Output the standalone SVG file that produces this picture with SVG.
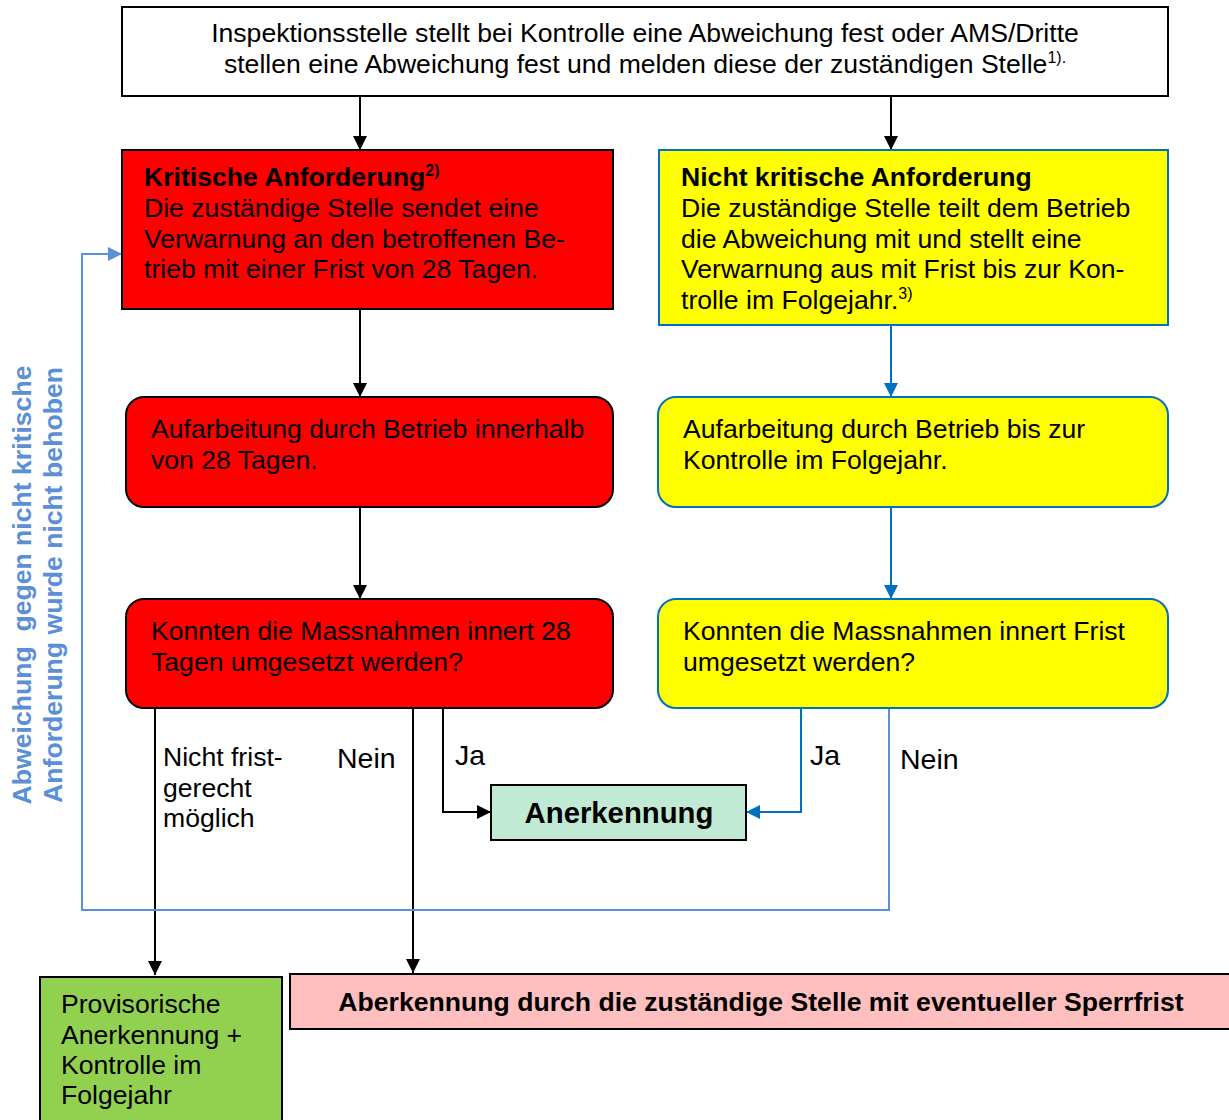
<svg xmlns="http://www.w3.org/2000/svg" width="1229" height="1120" viewBox="0 0 1229 1120">
<style>
text{font-family:"Liberation Sans",Arial,sans-serif;font-size:26.6px;fill:#000}
.b{font-weight:bold}
.c{text-anchor:middle}
.lbl{font-size:28.5px}
.sup{font-size:16px}
.blk{stroke:#000;stroke-width:2;fill:none}
.blu{stroke:#0070C0;stroke-width:2;fill:none}
.lb{stroke:#5B8FD6;stroke-width:2;fill:none}
.rot{font-weight:bold;fill:#5B8FD6;font-size:26.6px}
</style>
<defs>
<marker id="ab" viewBox="0 0 10 10" refX="10" refY="5" markerWidth="14" markerHeight="14" markerUnits="userSpaceOnUse" orient="auto"><path d="M0,0L10,5L0,10z" fill="#000"/></marker>
<marker id="au" viewBox="0 0 10 10" refX="10" refY="5" markerWidth="14" markerHeight="14" markerUnits="userSpaceOnUse" orient="auto"><path d="M0,0L10,5L0,10z" fill="#0070C0"/></marker>
<marker id="al" viewBox="0 0 10 10" refX="10" refY="5" markerWidth="14" markerHeight="14" markerUnits="userSpaceOnUse" orient="auto"><path d="M0,0L10,5L0,10z" fill="#5B8FD6"/></marker>
</defs>
<rect width="1229" height="1120" fill="#fff"/>

<g id="connectors">
<path class="blk" d="M360,96V150" marker-end="url(#ab)"/>
<path class="blk" d="M891,96V150" marker-end="url(#ab)"/>
<path class="blk" d="M360,309V397" marker-end="url(#ab)"/>
<path class="blu" d="M891,325V397" marker-end="url(#au)"/>
<path class="blk" d="M360,507V599" marker-end="url(#ab)"/>
<path class="blu" d="M891,507V599" marker-end="url(#au)"/>
<path class="blk" d="M155,708V975" marker-end="url(#ab)"/>
<path class="blk" d="M413,708V973" marker-end="url(#ab)"/>
<path class="blk" d="M443,708V812H491" marker-end="url(#ab)"/>
<path class="blu" d="M801,708V812H746" marker-end="url(#au)"/>
<path class="lb" d="M889,707V910H82V254H122" marker-end="url(#al)"/>
<text x="163" y="766">Nicht frist-</text>
<text x="163" y="797">gerecht</text>
<text x="163" y="827">möglich</text>
<text class="lbl" x="337" y="768">Nein</text>
<text class="lbl" x="455" y="765">Ja</text>
<text class="lbl" x="810" y="765">Ja</text>
<text class="lbl" x="900" y="769">Nein</text>
<text class="rot c" xml:space="preserve" transform="translate(31,585) rotate(-90)">Abweichung  gegen nicht kritische</text>
<text class="rot c" transform="translate(62,585) rotate(-90)">Anforderung wurde nicht behoben</text>
</g>

<g id="start">
<rect x="122" y="7" width="1046" height="89" fill="#fff" stroke="#000" stroke-width="2"/>
<text class="c" x="645" y="42">Inspektionsstelle stellt bei Kontrolle eine Abweichung fest oder AMS/Dritte</text>
<text class="c" x="645" y="73">stellen eine Abweichung fest und melden diese der zuständigen Stelle<tspan class="sup" dy="-10">1).</tspan></text>
</g>

<g id="kritisch">
<rect x="122" y="150" width="491" height="159" fill="#FF0000" stroke="#000" stroke-width="2"/>
<text x="144" y="186" class="b">Kritische Anforderung<tspan class="sup" dy="-10">2)</tspan></text>
<text x="144" y="217">Die zuständige Stelle sendet eine</text>
<text x="144" y="248">Verwarnung an den betroffenen Be-</text>
<text x="144" y="278">trieb mit einer Frist von 28 Tagen.</text>
</g>

<g id="nichtkritisch">
<rect x="659" y="150" width="509" height="175" fill="#FFFF00" stroke="#0070C0" stroke-width="2"/>
<text x="681" y="186" class="b">Nicht kritische Anforderung</text>
<text x="681" y="217">Die zuständige Stelle teilt dem Betrieb</text>
<text x="681" y="248">die Abweichung mit und stellt eine</text>
<text x="681" y="278">Verwarnung aus mit Frist bis zur Kon-</text>
<text x="681" y="309">trolle im Folgejahr.<tspan class="sup" dy="-10">3)</tspan></text>
</g>

<g id="aufarbeitung-rot">
<rect x="126" y="397" width="487" height="110" rx="18" fill="#FF0000" stroke="#000" stroke-width="2"/>
<text x="151" y="438">Aufarbeitung durch Betrieb innerhalb</text>
<text x="151" y="469">von 28 Tagen.</text>
</g>

<g id="aufarbeitung-gelb">
<rect x="658" y="397" width="510" height="110" rx="18" fill="#FFFF00" stroke="#0070C0" stroke-width="2"/>
<text x="683" y="438">Aufarbeitung durch Betrieb bis zur</text>
<text x="683" y="469">Kontrolle im Folgejahr.</text>
</g>

<g id="frage-rot">
<rect x="126" y="599" width="487" height="109" rx="18" fill="#FF0000" stroke="#000" stroke-width="2"/>
<text x="151" y="640">Konnten die Massnahmen innert 28</text>
<text x="151" y="671">Tagen umgesetzt werden?</text>
</g>

<g id="frage-gelb">
<rect x="658" y="599" width="510" height="109" rx="18" fill="#FFFF00" stroke="#0070C0" stroke-width="2"/>
<text x="683" y="640">Konnten die Massnahmen innert Frist</text>
<text x="683" y="671">umgesetzt werden?</text>
</g>

<g id="anerkennung">
<rect x="491" y="785" width="255" height="55" fill="#C0EAD3" stroke="#000" stroke-width="2"/>
<text class="b c" x="619" y="823" style="font-size:29.3px">Anerkennung</text>
</g>

<g id="provisorisch">
<rect x="40" y="977" width="242" height="150" fill="#92D050" stroke="#000" stroke-width="2"/>
<text x="61" y="1013">Provisorische</text>
<text x="61" y="1044">Anerkennung +</text>
<text x="61" y="1074">Kontrolle im</text>
<text x="61" y="1104">Folgejahr</text>
</g>

<g id="aberkennung">
<rect x="290" y="974" width="950" height="55" fill="#FFBFBF" stroke="#000" stroke-width="2"/>
<text class="b c" x="761" y="1011">Aberkennung durch die zuständige Stelle mit eventueller Sperrfrist</text>
</g>
</svg>
